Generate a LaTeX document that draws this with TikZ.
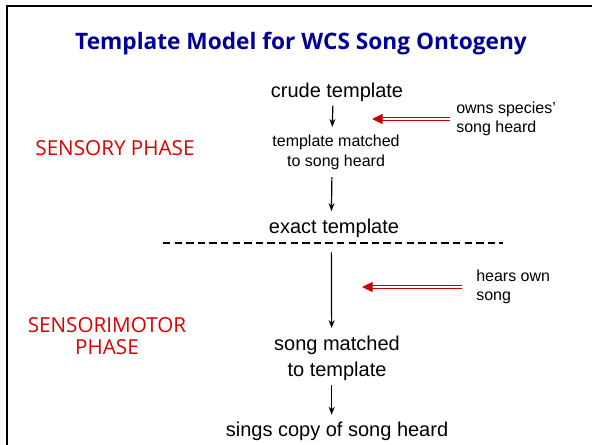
\documentclass[tikz,border=0pt]{standalone}
\usepackage{fontspec}
\setmainfont{Liberation Sans}
\newfontfamily\comicfont{Open Sans}
\usetikzlibrary{arrows.meta}
\definecolor{titleblue}{RGB}{0,0,150}
\definecolor{phasered}{RGB}{220,0,0}
\definecolor{cuered}{RGB}{204,0,0}

\begin{document}
\begin{tikzpicture}[x=0.75pt,y=-0.75pt,
    every node/.style={inner sep=0pt,align=center},
    stage/.style={font=\fontsize{15}{19.5}\selectfont},
    substage/.style={font=\fontsize{12}{15}\selectfont},
    phase/.style={text=phasered,font=\comicfont\fontsize{15.5}{16.5}\selectfont},
    cue/.style={anchor=west,align=left,font=\fontsize{12}{14.5}\selectfont},
    stagearrow/.style={-{Stealth[length=6pt,width=4.5pt]},line width=0.9pt},
    cuearrow/.style={-{Triangle[length=8pt,width=7.5pt]},draw=cuered,
      double=white,double distance=1pt,line width=0.9pt}]
  \useasboundingbox (0,0) rectangle (592,444);
  % slide frame
  \draw[line width=2pt] (7,450) -- (7,6) -- (600,6);
  \node[font=\comicfont\bfseries\fontsize{17}{20}\selectfont,text=titleblue]
    (title) at (301,44) {Template Model for WCS Song Ontogeny};

  % the stages
  \node[stage] (crude) at (337,92) {crude template};
  \node[substage] (matched) at (336,152) {template matched\\to song heard};
  \node[stage] (exact) at (334,228) {exact template};
  \node[stage] (songmatched) at (337,358) {song matched\\to template};
  \node[stage] (sings) at (337,431) {sings copy of song heard};

  \draw[stagearrow,shorten <=3pt,shorten >=5.5pt] ([xshift=-3pt]crude.south) -- ([xshift=-3pt]matched.north);
  \draw[stagearrow,shorten <=5.5pt,shorten >=5.5pt] ([xshift=-3pt]matched.south) -- ([xshift=-2pt]exact.north);
  \draw[stagearrow,shorten <=11pt,shorten >=5.5pt] ([xshift=-2pt]exact.south) -- ([xshift=-4pt]songmatched.north);
  \draw[stagearrow,shorten <=3.5pt,shorten >=5pt] ([xshift=-4pt]songmatched.south) -- ([xshift=-4pt]sings.north);

  % boundary between the phases
  \coordinate (dashL) at (163,243);
  \coordinate (dashR) at (503,243);
  \draw[line width=1pt,dash pattern=on 5.5pt off 3.2pt] (dashL) -- (dashR);

  \node[phase] (sensory) at (115,148) {SENSORY PHASE};
  \node[phase] (motor) at (107,336) {SENSORIMOTOR\\PHASE};

  % cues from outside
  \node[cue] (owns) at (456,119) {owns species'\\song heard};
  \node[cue] (hears) at (476,287) {hears own\\song};
  \coordinate (ownsTip) at (372,119);
  \coordinate (hearsTip) at (362,287);
  \draw[cuearrow,shorten <=4.5pt] (owns.west) -- (ownsTip);
  \draw[cuearrow,shorten <=10.5pt] (hears.west) -- (hearsTip);
\end{tikzpicture}
\end{document}
